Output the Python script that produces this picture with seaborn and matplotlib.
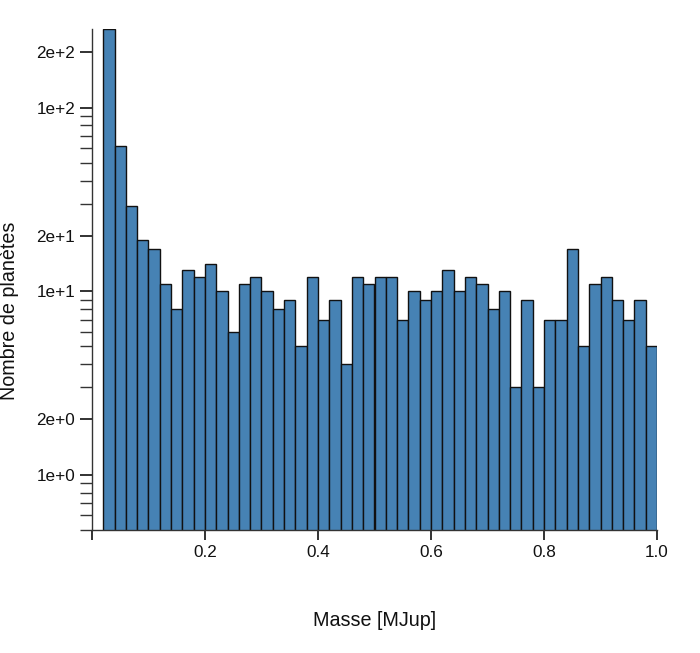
import numpy as np
import pandas as pd
import matplotlib
matplotlib.use("Agg")
import matplotlib.pyplot as plt
from matplotlib.ticker import FixedLocator, FixedFormatter, NullFormatter
import seaborn as sns

# ---- data ----
mass_min = 0.02
mass_max = 1.0
n_bins = 49
counts = [268, 62, 29, 19, 17, 11, 8, 13, 12, 14,
          10, 6, 11, 12, 10, 8, 9, 5, 12, 7,
          9, 4, 12, 11, 12, 12, 7, 10, 9, 10,
          13, 10, 12, 11, 8, 10, 3, 9, 3, 7,
          7, 17, 5, 11, 12, 9, 7, 9, 5]
y_major = [1, 2, 10, 20, 100, 200]
y_major_labels = ["1e+0", "2e+0", "1e+1", "2e+1", "1e+2", "2e+2"]
y_minor = [0.5, 0.6, 0.7, 0.8, 0.9, 3, 4, 5, 6, 7, 8, 9, 30, 40, 50, 60, 70, 80, 90]
x_ticks = [0.2, 0.4, 0.6, 0.8, 1.0]
x_tick_labels = ["0.2", "0.4", "0.6", "0.8", "1.0"]

centers = mass_min + (np.arange(n_bins) + 0.5) * (mass_max - mass_min) / n_bins
df = pd.DataFrame({"masse": centers, "n": counts})

sns.set_style("ticks")
plt.rcParams["font.family"] = ["Liberation Sans", "DejaVu Sans"]

fig = plt.figure(figsize=(7.0, 6.53), dpi=100)
ax = fig.add_axes([0.1314, 0.1884, 0.9386 - 0.1314, 0.9556 - 0.1884])

sns.histplot(data=df, x="masse", weights="n", bins=n_bins,
             binrange=(mass_min, mass_max), ax=ax,
             color="#4682B4", alpha=1.0, edgecolor="#111111", linewidth=1.0)

ax.set_yscale("log")
ax.set_ylim(0.5, max(counts))
ax.set_xlim(0, 1.0)

ax.yaxis.set_major_locator(FixedLocator(y_major))
ax.yaxis.set_major_formatter(FixedFormatter(y_major_labels))
ax.yaxis.set_minor_locator(FixedLocator(y_minor))
ax.yaxis.set_minor_formatter(NullFormatter())
ax.set_xticks([0.0] + x_ticks)
ax.set_xticklabels([""] + x_tick_labels)

ax.tick_params(axis="y", which="major", direction="out", length=9, width=1.3,
               color="#222222", labelsize=12.3, labelcolor="#111111", pad=3)
ax.tick_params(axis="y", which="minor", direction="out", length=9, width=1.0, color="#333333")
ax.tick_params(axis="x", which="major", direction="out", length=7, width=1.3,
               color="#222222", labelsize=12.3, labelcolor="#111111", pad=4)

sns.despine(ax=ax)
for s in ["left", "bottom"]:
    ax.spines[s].set_color("#333333")
    ax.spines[s].set_linewidth(1.0)

ax.set_xlabel("Masse [MJup]", fontsize=14.2, color="#111111")
ax.set_ylabel("Nombre de planètes", fontsize=14.2, color="#111111")
ax.xaxis.set_label_coords(0.5, -0.162)
ax.yaxis.set_label_coords(-0.129, 0.437)
ax.grid(False)

fig.savefig("out.png", dpi=100)
